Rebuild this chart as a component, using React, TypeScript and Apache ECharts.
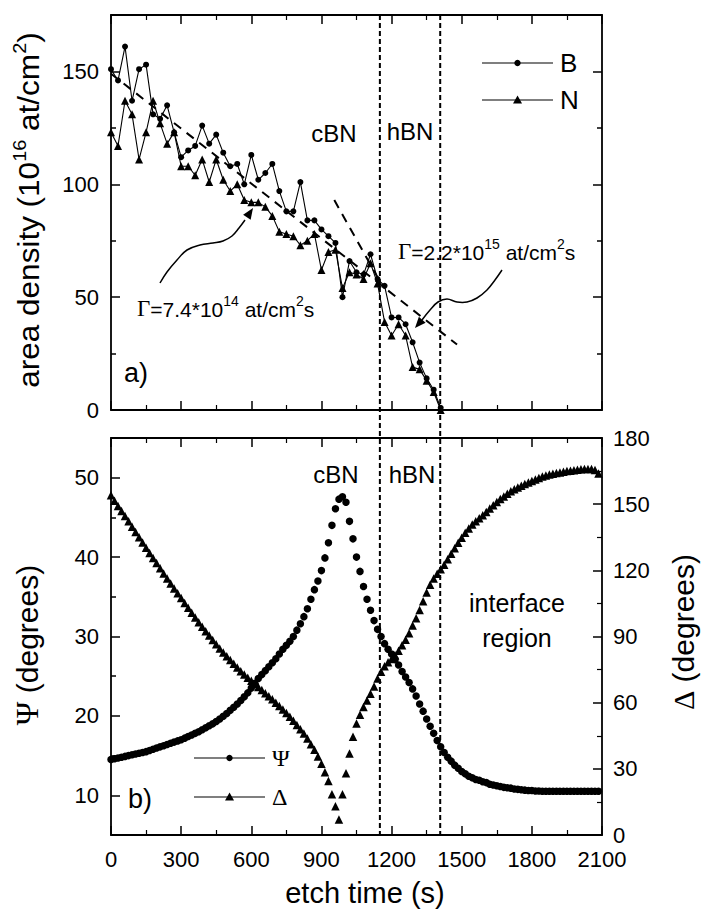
import React, { useEffect, useRef } from "react";
import * as echarts from "echarts";

// ---------------- data ----------------
const densityTimes = [
  0, 30, 60, 90, 120, 150, 180, 210, 240, 270,
  300, 330, 360, 390, 420, 450, 480, 510, 540, 570,
  600, 630, 660, 690, 720, 750, 780, 810, 840, 870,
  900, 930, 960, 990, 1020, 1050, 1080, 1110, 1140, 1170,
  1200, 1230, 1260, 1290, 1320, 1350, 1380, 1410,
];
const boronDensity = [
  151, 146, 161, 137, 151, 153, 131, 129, 135, 123,
  112, 115, 117, 126, 118, 122, 114, 108, 109, 100,
  113, 102, 105, 109, 97, 88, 88, 101, 84, 84,
  80, 77, 74, 50, 66, 61, 60, 69, 58, 55,
  41, 41, 38, 30, 21, 14, 9, 1,
];
const nitrogenDensity = [
  123, 117, 137, 131, 111, 123, 137, 127, 118, 123,
  108, 108, 104, 111, 101, 111, 102, 97, 100, 93,
  92, 92, 90, 86, 79, 78, 77, 73, 75, 78,
  62, 70, 71, 54, 61, 60, 58, 65, 56, 39,
  33, 38, 33, 19, 18, 13, 8, 0,
];
const slowRateFit = [[0, 149], [1480, 29]];
const fastRateFit = [[955, 93], [1150, 57]];

const ellipsTimes = [
  0, 15, 30, 45, 60, 75, 90, 105, 120, 135,
  150, 165, 180, 195, 210, 225, 240, 255, 270, 285,
  300, 315, 330, 345, 360, 375, 390, 405, 420, 435,
  450, 465, 480, 495, 510, 525, 540, 555, 570, 585,
  600, 615, 630, 645, 660, 675, 690, 705, 720, 735,
  750, 765, 780, 795, 810, 825, 840, 855, 870, 885,
  900, 915, 930, 945, 960, 975, 990, 1005, 1020, 1035,
  1050, 1065, 1080, 1095, 1110, 1125, 1140, 1155, 1170, 1185,
  1200, 1215, 1230, 1245, 1260, 1275, 1290, 1305, 1320, 1335,
  1350, 1365, 1380, 1395, 1410, 1425, 1440, 1455, 1470, 1485,
  1500, 1515, 1530, 1545, 1560, 1575, 1590, 1605, 1620, 1635,
  1650, 1665, 1680, 1695, 1710, 1725, 1740, 1755, 1770, 1785,
  1800, 1815, 1830, 1845, 1860, 1875, 1890, 1905, 1920, 1935,
  1950, 1965, 1980, 1995, 2010, 2025, 2040, 2055, 2070, 2085,
];
const psiValues = [
  14.5, 14.6, 14.7, 14.8, 14.9, 15.0, 15.1, 15.2, 15.3, 15.4,
  15.5, 15.65, 15.8, 15.95, 16.1, 16.25, 16.4, 16.55, 16.7, 16.85,
  17.0, 17.2, 17.4, 17.6, 17.8, 18.0, 18.25, 18.5, 18.75, 19.0,
  19.3, 19.6, 19.95, 20.3, 20.7, 21.1, 21.5, 21.95, 22.4, 22.9,
  23.5, 24.1, 24.7, 25.2, 25.7, 26.2, 26.7, 27.2, 27.8, 28.4,
  28.9, 29.4, 30.0, 30.8, 31.6, 32.5, 33.5, 34.7, 35.9, 37.0,
  38.3, 39.9, 41.8, 44.0, 46.1, 47.3, 47.6, 46.9, 44.5, 42.3,
  40.0, 38.2, 36.3, 34.7, 33.3, 32.0, 30.9, 30.0, 29.1, 28.4,
  27.8, 27.1, 26.4, 25.6, 24.9, 24.2, 23.4, 22.5, 21.5, 20.6,
  19.6, 18.7, 17.8, 16.9, 16.1, 15.4, 14.8, 14.3, 13.8, 13.4,
  13.0, 12.7, 12.4, 12.2, 12.0, 11.9, 11.7, 11.6, 11.4, 11.3,
  11.2, 11.1, 11.0, 10.95, 10.9, 10.8, 10.75, 10.7, 10.65, 10.6,
  10.6, 10.55, 10.55, 10.5, 10.5, 10.5, 10.5, 10.5, 10.5, 10.5,
  10.5, 10.5, 10.5, 10.5, 10.5, 10.5, 10.5, 10.5, 10.5, 10.5,
];
const deltaValues = [
  154, 151.5, 149.2, 146.9, 144.6, 142.2, 139.8, 137.4, 135.0, 132.6,
  130.2, 127.9, 125.6, 123.3, 121.0, 118.6, 116.3, 114.0, 111.8, 109.6,
  107.4, 105.2, 103.0, 100.8, 98.6, 96.5, 94.4, 92.4, 90.4, 88.4,
  86.5, 84.6, 82.8, 81.0, 79.3, 77.6, 75.9, 74.3, 72.8, 71.3,
  69.9, 68.5, 67.1, 65.7, 64.3, 62.9, 61.5, 60.0, 58.5, 56.9,
  55.3, 53.6, 51.8, 49.9, 48.0, 46.0, 43.7, 41.2, 38.6, 35.6,
  32.3, 28.5, 24.5, 18.5, 13.0, 7.0, 18.5, 28.0, 37.0, 44.5,
  50.5, 54.5, 58.0, 61.0, 64.0, 67.3, 71.0, 74.0, 76.5, 78.3,
  79.8, 81.5, 83.5, 86.0, 88.5, 91.5, 95.0, 98.3, 102.0, 106.0,
  110.0, 113.5, 116.3, 118.5, 120.5, 122.5, 125.0, 127.5, 130.0, 132.5,
  134.8, 137.0, 139.0, 140.8, 142.2, 143.6, 145.0, 146.5, 148.0, 149.5,
  151.0, 152.3, 153.5, 154.7, 155.8, 156.8, 157.6, 158.4, 159.1, 159.8,
  160.5, 161.2, 161.9, 162.5, 163.0, 163.4, 163.8, 164.1, 164.4, 164.7,
  165.0, 165.2, 165.4, 165.6, 165.8, 165.9, 166.0, 166.0, 165.5, 163.9,
];

const densityMajorTicks = [0, 50, 100, 150];
const densityMinorTicks = [25, 75, 125];
const psiMajorTicks = [10, 20, 30, 40, 50];
const psiMinorTicks = [15, 25, 35, 45];
const regionBounds = [1150, 1408];

// ---------------- styling / layout ----------------
const SANS = '"Liberation Sans", Arial, Helvetica, sans-serif';
const SERIF = '"Liberation Serif", "Times New Roman", serif';
const BLACK = "#000";
const GRID_A = { left: 111, top: 15, width: 491, height: 395 };
const GRID_B = { left: 111, top: 438, width: 491, height: 397 };
const TICK_FONT = 22;

const arrowSlow = [
  [160, 283], [167, 272], [177, 260], [187, 250], [200, 245], [213, 243],
  [223, 241], [232, 236], [239, 228], [245, 220], [253, 208],
];
const arrowFast = [
  [502, 270], [495, 280], [487, 290], [477, 298], [467, 302], [457, 302],
  [447, 299], [438, 302], [430, 310], [422, 320], [415, 328],
];

const zip = (xs: number[], ys: number[]) => xs.map((x, i) => [x, ys[i]]);
const plainNumber = (v: number) => String(v);

function xAxisDef(gridIndex: number, position: string, showLabel: boolean) {
  return {
    type: "value",
    gridIndex,
    position,
    min: 0,
    max: 2100,
    interval: 300,
    axisLine: { show: true, onZero: false, lineStyle: { color: BLACK, width: 1.8 } },
    axisTick: { show: true, inside: true, length: 9, lineStyle: { color: BLACK, width: 1.5 } },
    minorTick: { show: true, splitNumber: 2, length: 5, lineStyle: { color: BLACK, width: 1.2 } },
    axisLabel: {
      show: showLabel,
      color: BLACK,
      fontSize: TICK_FONT,
      fontFamily: SANS,
      margin: 13,
      formatter: plainNumber,
    },
    splitLine: { show: false },
    minorSplitLine: { show: false },
  };
}

function yAxisDef(
  gridIndex: number,
  position: string,
  min: number,
  max: number,
  ticks: number[],
  tickLen: number,
  showLine: boolean,
  showLabel: boolean
) {
  return {
    type: "value",
    gridIndex,
    position,
    min,
    max,
    axisLine: { show: showLine, onZero: false, lineStyle: { color: BLACK, width: 1.8 } },
    axisTick: {
      show: true,
      inside: true,
      length: tickLen,
      customValues: ticks,
      lineStyle: { color: BLACK, width: 1.5 },
    },
    axisLabel: {
      show: showLabel,
      customValues: ticks,
      color: BLACK,
      fontSize: TICK_FONT,
      fontFamily: SANS,
      margin: 12,
      formatter: plainNumber,
    },
    splitLine: { show: false },
  };
}

function arrowGraphics(pts: number[][]) {
  const n = pts.length;
  const [tx, ty] = pts[n - 1];
  const [px, py] = pts[n - 2];
  const len = Math.hypot(tx - px, ty - py);
  const ux = (tx - px) / len;
  const uy = (ty - py) / len;
  const L = 11;
  const W = 4.5;
  const bx = tx - ux * L;
  const by = ty - uy * L;
  return [
    {
      type: "polyline",
      shape: { points: pts.slice(0, n - 1), smooth: 0.4 },
      style: { stroke: BLACK, lineWidth: 1.5, fill: null },
    },
    {
      type: "polygon",
      shape: {
        points: [
          [tx, ty],
          [bx - uy * W, by + ux * W],
          [bx + uy * W, by - ux * W],
        ],
      },
      style: { fill: BLACK },
    },
  ];
}

function legendEntry(y: number, x0: number, x1: number, symbol: "circle" | "triangle", label: string, labelFont: string, size: number) {
  const cx = (x0 + x1) / 2;
  const marker =
    symbol === "circle"
      ? { type: "circle", shape: { cx, cy: y, r: 3.2 }, style: { fill: BLACK } }
      : {
          type: "polygon",
          shape: { points: [[cx, y - 4.5], [cx - 4.5, y + 3.5], [cx + 4.5, y + 3.5]] },
          style: { fill: BLACK },
        };
  return [
    { type: "line", shape: { x1: x0, y1: y, x2: x1, y2: y }, style: { stroke: BLACK, lineWidth: 1.2 } },
    marker,
    {
      type: "text",
      x: x1 + 7,
      y,
      style: { text: label, fontFamily: labelFont, fontSize: size, fill: BLACK, align: "left", verticalAlign: "middle" },
    },
  ];
}

function plainText(x: number, y: number, text: string, size: number, align = "center") {
  return {
    type: "text",
    x,
    y,
    style: { text, fontFamily: SANS, fontSize: size, fill: BLACK, align, verticalAlign: "middle" },
  };
}

export default function App() {
  const ref = useRef<HTMLDivElement>(null);

  useEffect(() => {
    if (!ref.current) return;
    const chart = echarts.init(ref.current, undefined, { renderer: "svg" });

    const option: any = {
      animation: false,
      backgroundColor: "#fff",
      grid: [
        { ...GRID_A, containLabel: false },
        { ...GRID_B, containLabel: false },
      ],
      xAxis: [
        xAxisDef(0, "bottom", false),
        xAxisDef(0, "top", false),
        xAxisDef(1, "bottom", true),
        xAxisDef(1, "top", false),
      ],
      yAxis: [
        yAxisDef(0, "left", 0, 175, densityMajorTicks, 9, true, true),
        yAxisDef(0, "left", 0, 175, densityMinorTicks, 5, false, false),
        yAxisDef(0, "right", 0, 175, densityMajorTicks, 9, true, false),
        yAxisDef(0, "right", 0, 175, densityMinorTicks, 5, false, false),
        yAxisDef(1, "left", 5, 55, psiMajorTicks, 9, true, true),
        yAxisDef(1, "left", 5, 55, psiMinorTicks, 5, false, false),
        {
          type: "value",
          gridIndex: 1,
          position: "right",
          min: 0,
          max: 180,
          interval: 30,
          axisLine: { show: true, onZero: false, lineStyle: { color: BLACK, width: 1.8 } },
          axisTick: { show: true, inside: true, length: 9, lineStyle: { color: BLACK, width: 1.5 } },
          minorTick: { show: true, splitNumber: 2, length: 5, lineStyle: { color: BLACK, width: 1.2 } },
          axisLabel: { show: true, color: BLACK, fontSize: TICK_FONT, fontFamily: SANS, margin: 11, formatter: plainNumber },
          splitLine: { show: false },
          minorSplitLine: { show: false },
        },
      ],
      series: [
        {
          name: "B",
          type: "line",
          xAxisIndex: 0,
          yAxisIndex: 0,
          data: zip(densityTimes, boronDensity),
          symbol: "circle",
          symbolSize: 6,
          itemStyle: { color: BLACK },
          lineStyle: { color: BLACK, width: 1.1 },
          z: 3,
        },
        {
          name: "N",
          type: "line",
          xAxisIndex: 0,
          yAxisIndex: 0,
          data: zip(densityTimes, nitrogenDensity),
          symbol: "triangle",
          symbolSize: 8,
          itemStyle: { color: BLACK },
          lineStyle: { color: BLACK, width: 1.1 },
          z: 3,
        },
        {
          name: "slow fit",
          type: "line",
          xAxisIndex: 0,
          yAxisIndex: 0,
          data: slowRateFit,
          symbol: "none",
          lineStyle: { color: BLACK, width: 2, type: [9, 7] },
          z: 4,
        },
        {
          name: "fast fit",
          type: "line",
          xAxisIndex: 0,
          yAxisIndex: 0,
          data: fastRateFit,
          symbol: "none",
          lineStyle: { color: BLACK, width: 2, type: [9, 7] },
          z: 4,
        },
        {
          name: "Ψ",
          type: "scatter",
          xAxisIndex: 2,
          yAxisIndex: 4,
          data: zip(ellipsTimes, psiValues),
          symbol: "circle",
          symbolSize: 7.5,
          itemStyle: { color: BLACK, opacity: 1 },
        },
        {
          name: "Δ",
          type: "scatter",
          xAxisIndex: 2,
          yAxisIndex: 6,
          data: zip(ellipsTimes, deltaValues),
          symbol: "triangle",
          symbolSize: 8.5,
          itemStyle: { color: BLACK, opacity: 1 },
        },
      ],
    };
    chart.setOption(option);

    const topY = GRID_A.top;
    const botY = GRID_B.top + GRID_B.height;
    const boundaryLines = regionBounds.map((v) => {
      const px = chart.convertToPixel({ xAxisIndex: 0 }, v) as number;
      return {
        type: "line",
        shape: { x1: px, y1: topY, x2: px, y2: botY },
        style: { stroke: BLACK, lineWidth: 2, lineDash: [5, 3] },
        z: 10,
      };
    });

    const supRich = {
      n: { fontFamily: SANS, fontSize: 21, fill: BLACK, lineHeight: 26, verticalAlign: "bottom" },
      g: { fontFamily: SERIF, fontSize: 23, fill: BLACK, lineHeight: 26, verticalAlign: "bottom" },
      s: { fontFamily: SANS, fontSize: 14, fill: BLACK, lineHeight: 26, verticalAlign: "top" },
    };

    const graphics: any[] = [
      ...boundaryLines,
      plainText(334, 133, "cBN", 24),
      plainText(410, 131, "hBN", 24),
      plainText(336, 474, "cBN", 24),
      plainText(412, 474, "hBN", 24),
      plainText(517, 603, "interface", 25),
      plainText(517, 638, "region", 25),
      plainText(124, 373, "a)", 27, "left"),
      plainText(128, 799, "b)", 27, "left"),
      {
        type: "text",
        x: 137,
        y: 307,
        style: { text: "{g|Γ}{n|=7.4*10}{s|14}{n| at/cm}{s|2}{n|s}", rich: supRich, align: "left", verticalAlign: "middle" },
        z: 12,
      },
      {
        type: "text",
        x: 398,
        y: 250,
        style: { text: "{g|Γ}{n|=2.2*10}{s|15}{n| at/cm}{s|2}{n|s}", rich: supRich, align: "left", verticalAlign: "middle" },
        z: 12,
      },
      ...arrowGraphics(arrowSlow),
      ...arrowGraphics(arrowFast),
      ...legendEntry(63, 482, 553, "circle", "B", SANS, 26),
      ...legendEntry(100, 482, 553, "triangle", "N", SANS, 26),
      ...legendEntry(758, 194, 265, "circle", "Ψ", SERIF, 24),
      ...legendEntry(797, 194, 265, "triangle", "Δ", SERIF, 24),
      plainText(365, 893, "etch time (s)", 29),
      {
        type: "text",
        x: 27,
        y: 210,
        rotation: Math.PI / 2,
        scaleX: 1.05,
        style: {
          text: "{n|area density (10}{s|16}{n| at/cm}{s|2}{n|)}",
          rich: {
            n: { fontFamily: SANS, fontSize: 30, fill: BLACK, lineHeight: 34, verticalAlign: "bottom" },
            s: { fontFamily: SANS, fontSize: 19, fill: BLACK, lineHeight: 34, verticalAlign: "top" },
          },
          align: "center",
          verticalAlign: "middle",
        },
      },
      {
        type: "text",
        x: 27,
        y: 645,
        rotation: Math.PI / 2,
        style: {
          text: "{g|Ψ}{n| (degrees)}",
          rich: {
            n: { fontFamily: SANS, fontSize: 30, fill: BLACK, lineHeight: 34 },
            g: { fontFamily: SERIF, fontSize: 32, fill: BLACK, lineHeight: 34 },
          },
          align: "center",
          verticalAlign: "middle",
        },
      },
      {
        type: "text",
        x: 683,
        y: 632,
        rotation: Math.PI / 2,
        style: {
          text: "{g|Δ}{n| (degrees)}",
          rich: {
            n: { fontFamily: SANS, fontSize: 30, fill: BLACK, lineHeight: 34 },
            g: { fontFamily: SERIF, fontSize: 30, fill: BLACK, lineHeight: 34 },
          },
          align: "center",
          verticalAlign: "middle",
        },
      },
    ];

    chart.setOption({ graphic: graphics });

    return () => chart.dispose();
  }, []);

  return (
    <div
      ref={ref}
      style={{ position: "absolute", left: 0, top: 0, width: 704, height: 910, background: "#fff" }}
    />
  );
}
